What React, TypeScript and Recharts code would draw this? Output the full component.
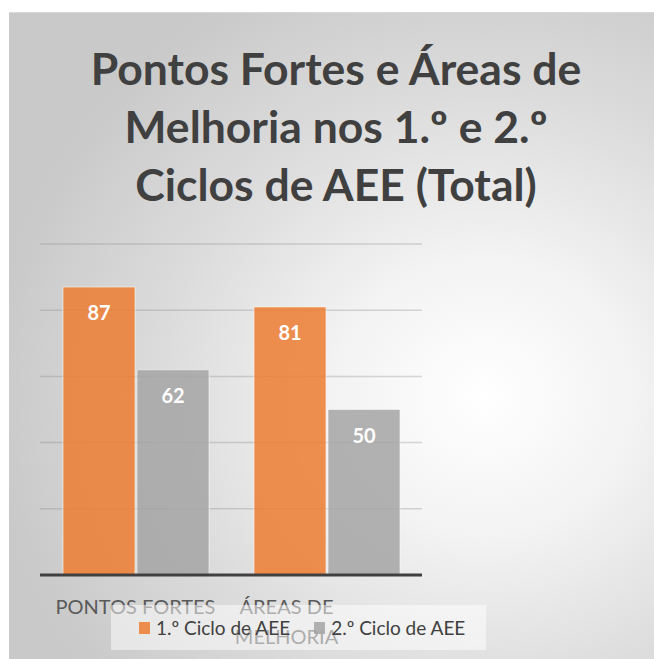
import { Bar, BarChart, CartesianGrid, LabelList, Legend, XAxis, YAxis } from 'recharts'

const categories = ['PONTOS FORTES', 'ÁREAS DE MELHORIA']
const ciclo1 = [87, 81]
const ciclo2 = [62, 50]
const seriesNames = ['1.º Ciclo de AEE', '2.º Ciclo de AEE']
const yTicks = [0, 20, 40, 60, 80, 100]
const titleLines = ['Pontos Fortes e Áreas de', 'Melhoria nos 1.º e 2.º', 'Ciclos de AEE (Total)']

const data = categories.map((name, i) => ({ name, c1: ciclo1[i], c2: ciclo2[i] }))

const font = 'Lato, "Open Sans", sans-serif'
const orange = '#ED7D31'
const gray = '#A5A5A5'

// greedy wrap, roughly like the office chart does it
function wrap(text: string, max: number) {
  const out: string[] = []
  let cur = ''
  for (const w of text.split(' ')) {
    const next = cur ? `${cur} ${w}` : w
    if (next.length > max && cur) {
      out.push(cur)
      cur = w
    } else cur = next
  }
  if (cur) out.push(cur)
  return out
}

function CategoryTick(props: any) {
  const { x, y, payload } = props
  const lines = wrap(payload.value, 13)
  const shift = lines.length > 1 ? -40 : 0
  return (
    <text x={x + shift} y={y} textAnchor="middle" fill="#595959" fontFamily={font} fontSize={20}>
      {lines.map((l, i) => (
        <tspan key={i} x={x + shift} dy={i === 0 ? 31 : 30}>
          {l}
        </tspan>
      ))}
    </text>
  )
}

function LegendBox({ payload }: any) {
  return (
    <div
      style={{
        background: 'rgba(255,255,255,0.5)',
        height: 45,
        display: 'flex',
        alignItems: 'center',
        paddingLeft: 28,
        gap: 24,
        fontFamily: font,
        fontSize: 19,
        color: '#404040',
      }}
    >
      {(payload || []).map((p: any) => (
        <div key={p.value} style={{ display: 'flex', alignItems: 'center', gap: 6 }}>
          <span style={{ width: 11, height: 12, background: p.color, opacity: 0.85, display: 'inline-block' }} />
          <span>{p.value}</span>
        </div>
      ))}
    </div>
  )
}

export default function App() {
  return (
    <div style={{ position: 'absolute', left: 0, top: 0, width: 654, height: 659, background: '#fff', overflow: 'hidden' }}>
      <div
        style={{
          position: 'absolute',
          left: 9,
          top: 12,
          width: 660,
          height: 660,
          borderTop: '1px solid #d8d8d8',
          background: 'radial-gradient(ellipse 75% 70% at 72% 58%, #ffffff 0%, #f3f3f3 30%, #dcdcdc 65%, #c9c9c9 100%)',
        }}
      />
      <div
        style={{
          position: 'absolute',
          left: 36,
          top: 39,
          width: 600,
          textAlign: 'center',
          fontFamily: font,
          fontWeight: 700,
          fontSize: 44.5,
          lineHeight: '58px',
          color: '#404040',
        }}
      >
        {titleLines.map((t) => (
          <div key={t}>{t}</div>
        ))}
      </div>
      <div style={{ position: 'absolute', left: 0, top: 0 }}>
        <BarChart
          width={654}
          height={659}
          data={data}
          margin={{ top: 244, right: 232, bottom: 54, left: 40 }}
          barCategoryGap={23}
          barGap={2}
        >
          <CartesianGrid vertical={false} stroke="#808080" strokeOpacity={0.3} strokeWidth={1.5} />
          <YAxis hide domain={[0, 100]} ticks={yTicks} />
          <XAxis
            dataKey="name"
            height={30}
            axisLine={{ stroke: '#404040', strokeWidth: 3 }}
            tickLine={false}
            tick={<CategoryTick />}
            interval={0}
          />
          <Legend
            layout="horizontal"
            verticalAlign="middle"
            align="center"
            wrapperStyle={{ left: 111, top: 605, width: 375, height: 45 }}
            content={<LegendBox />}
          />
          <Bar dataKey="c1" name={seriesNames[0]} fill={orange} fillOpacity={0.85} stroke="#fafafa" strokeOpacity={0.6} isAnimationActive={false}>
            <LabelList dataKey="c1" position="insideTop" offset={19} fill="#fff" fontFamily={font} fontWeight={700} fontSize={20} />
          </Bar>
          <Bar dataKey="c2" name={seriesNames[1]} fill={gray} fillOpacity={0.85} stroke="#fafafa" strokeOpacity={0.6} isAnimationActive={false}>
            <LabelList dataKey="c2" position="insideTop" offset={19} fill="#fff" fontFamily={font} fontWeight={700} fontSize={20} />
          </Bar>
        </BarChart>
      </div>
    </div>
  )
}
